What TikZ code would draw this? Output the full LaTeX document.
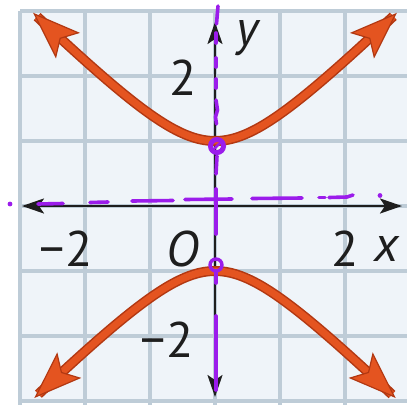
\documentclass[tikz,border=0pt]{standalone}
\usepackage{fontspec}
\setmainfont{PT Sans}
\usetikzlibrary{arrows.meta}
\definecolor{curveC}{RGB}{228,84,32}
\definecolor{curveD}{RGB}{178,56,18}
\definecolor{penC}{RGB}{155,28,235}
\definecolor{gridC}{RGB}{190,204,215}
\definecolor{cellC}{RGB}{239,244,249}
\definecolor{inkC}{RGB}{30,30,30}
\begin{document}
\begin{tikzpicture}[x=1pt,y=-1pt,
  gridline/.style={draw=gridC, line width=3.5pt},
  axisline/.style={draw=inkC, line width=2.4pt,
    {Stealth[length=22pt,width=15pt,inset=5pt]}-{Stealth[length=22pt,width=15pt,inset=5pt]}},
  curveedge/.style={draw=curveD, line width=10pt, shorten <=30pt, shorten >=30pt},
  curvemain/.style={draw=curveC, line width=7pt,
    {Stealth[length=48pt,width=35pt,inset=10pt,line width=1.2pt,fill=curveC,color=curveD]}-{Stealth[length=48pt,width=35pt,inset=10pt,line width=1.2pt,fill=curveC,color=curveD]}},
  pen/.style={draw=penC, line width=3.6pt, line cap=round},
  lbl/.style={font=\fontsize{50}{50}\selectfont, text=inkC, inner sep=0pt, anchor=base}]
\useasboundingbox (0,0) rectangle (407,405);
% grid
\fill[white] (0,0) rectangle (407,405);
\fill[cellC] (20,11) rectangle (407,401);
\foreach \i in {0,...,6} {
  \draw[gridline] ({20+65*\i},11) -- ({20+65*\i},405);
  \draw[gridline] (20,{11+65*\i}) -- (407,{11+65*\i});
}
% axes
\draw[axisline] (22,206) -- (402,206);
\draw[axisline] (215,397) -- (215,22);
% hyperbola
\draw[curveedge] plot[domain=-2.8:2.8, samples=80, smooth] ({215+65*\x},{206-65*sqrt(1+\x*\x)});
\draw[curvemain] plot[domain=-2.8:2.8, samples=80, smooth] ({215+65*\x},{206-65*sqrt(1+\x*\x)});
\draw[curveedge] plot[domain=-2.78:2.78, samples=80, smooth] ({215+65*\x},{206+65*sqrt(1+\x*\x)});
\draw[curvemain] plot[domain=-2.78:2.78, samples=80, smooth] ({215+65*\x},{206+65*sqrt(1+\x*\x)});
% labels
\node[lbl] (ly) at (247,45) {\itshape y};
\node[lbl] (l2u) at (183,95) {2};
\node[lbl] (lm2x) at (66,266) {−2};
\node[lbl] (lO) at (183,266) {\itshape O};
\node[lbl] (l2x) at (345,266) {2};
\node[lbl] (lx) at (387,261) {\itshape x};
\node[lbl] (lm2y) at (167,357) {−2};
% purple annotations: horizontal
\fill[penC] (10,204) circle[radius=2.4];
\draw[pen] (38,204) -- (63,203.5);
\draw[pen] (90,202.5) -- (108,202);
\draw[pen] (132,201) -- (173,200.5);
\draw[pen] (185,199.5) -- (232,199);
\draw[pen] (252,198.5) -- (302,198);
\draw[pen] (319,197.5) -- (325,197.5);
\draw[pen] (329,197.5) -- (347,197) -- (353,195);
\fill[penC] (380,195.5) circle[radius=2.4];
% purple annotations: vertical
\draw[pen] (218,6) -- (216.5,24);
\draw[pen] (216,33) -- (216,43);
\draw[pen] (216,58) -- (216,67);
\draw[pen] (216,79) -- (216,88);
\draw[pen] (216,100) -- (217.5,110) -- (215.5,117) -- (216.5,124);
\draw[pen] (217,156) -- (216,174);
\draw[pen] (216,189) -- (216,234);
\draw[pen] (216,271) -- (216,283);
\draw[pen] (216,316) -- (216,390);
% circles at the vertices
\draw[pen, line width=5pt] (217,146) circle[radius=6.5];
\draw[pen, line width=2.6pt] (215,148) -- (219,144);
\draw[pen, line width=3.4pt] (216,265) circle[radius=6];
\end{tikzpicture}
\end{document}
